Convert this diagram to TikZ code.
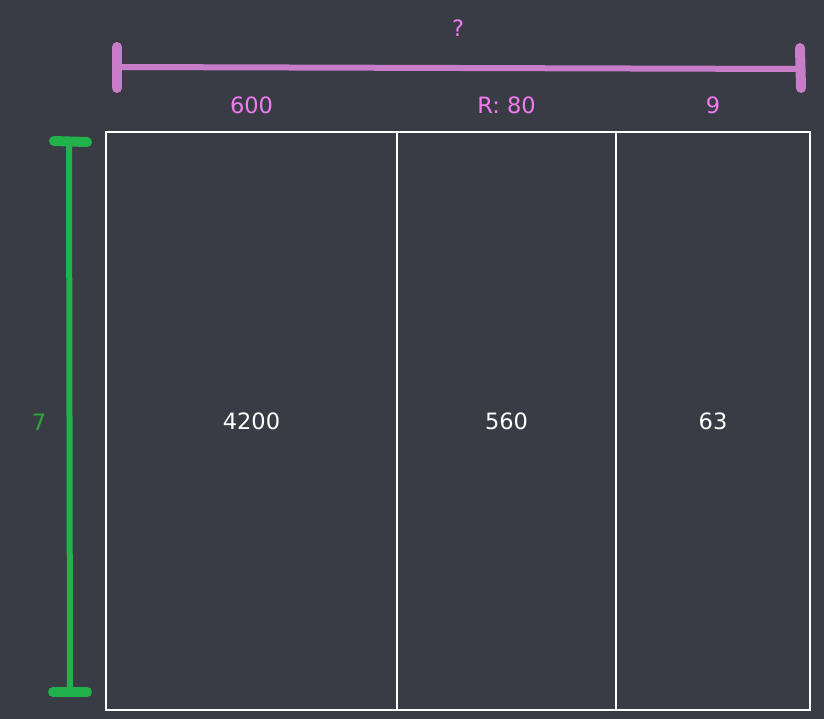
\documentclass[tikz,border=0pt]{standalone}
\usepackage{fontspec}
\setmainfont{DejaVu Sans}
\usetikzlibrary{positioning,calc}
\definecolor{bg}{HTML}{393C44}
\definecolor{barpink}{HTML}{C77DC8}
\definecolor{textpink}{HTML}{F07CF0}
\definecolor{bargreen}{HTML}{22B24C}
\definecolor{textgreen}{HTML}{2DA83A}
\tikzset{
  cell/.style={draw=white, line width=1.2pt, minimum height=578pt, inner sep=0pt, outer sep=0pt, anchor=north west, text=white, font=\fontsize{22.5}{26}\selectfont},
  lbl/.style={font=\fontsize{22.5}{26}\selectfont, inner sep=0pt},
  bar/.style={line width=6pt, line cap=round},
  endcap/.style={line width=10pt, line cap=round}
}
\begin{document}
\begin{tikzpicture}[x=1pt,y=-1pt]
  \fill[bg] (0,0) rectangle (824,719);
  \useasboundingbox (0,0) rectangle (824,719);

  % cells
  \node[cell, minimum width=291pt] (c1) at (106,132) {4200};
  \node[cell, minimum width=219pt, right=0pt of c1.north east, anchor=north west] (c2) {560};
  \node[cell, minimum width=194pt, right=0pt of c2.north east, anchor=north west] (c3) {63};

  % top bar
  \coordinate (tl) at (117,67);
  \coordinate (tr) at (800,69);
  \draw[bar, barpink] (tl) -- (tr);
  \draw[endcap, barpink] ($(tl)+(0,-20)$) -- ($(tl)+(0,21)$);
  \draw[endcap, barpink] ($(tr)+(0,-21)$) -- ($(tr)+(1,19)$);
  \node[lbl, text=textpink] (q) at (458,28) {?};

  % side bar
  \coordinate (lt) at (69,141);
  \coordinate (lb) at (70,692);
  \draw[bar, bargreen] (lt) -- (lb);
  \draw[endcap, bargreen] ($(lt)+(-15,0)$) -- ($(lt)+(18,1)$);
  \draw[endcap, bargreen] ($(lb)+(-17,0)$) -- ($(lb)+(17,0)$);
  \node[lbl, text=textgreen] (h) at (39,422) {7};

  % widths
  \node[lbl, text=textpink] (w1) at (c1.north |- 0,105) {600};
  \node[lbl, text=textpink] (w2) at (c2.north |- 0,105) {R: 80};
  \node[lbl, text=textpink] (w3) at (c3.north |- 0,105) {9};
\end{tikzpicture}
\end{document}
